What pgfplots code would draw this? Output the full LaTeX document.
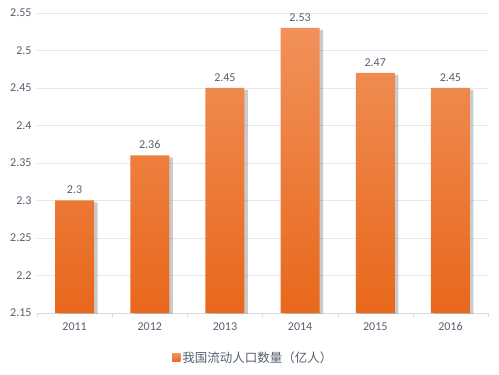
\documentclass[border=0pt]{standalone}
\usepackage{pgfplots}
\pgfplotsset{compat=1.18}
\usepackage{fontspec}
\setmainfont{Carlito}
\newfontfamily\cjk{Noto Sans CJK SC}
\definecolor{txt}{RGB}{85,95,110}
\definecolor{gridc}{RGB}{228,231,236}
\definecolor{axc}{RGB}{215,218,224}
\definecolor{otop}{RGB}{241,145,90}
\definecolor{obot}{RGB}{232,104,28}
\definecolor{oleg}{RGB}{236,116,40}
\begin{document}
\begin{tikzpicture}
\begin{axis}[
  scale only axis,
  width=451pt, height=300pt,
  xmin=-0.5, xmax=5.5,
  ymin=2.15, ymax=2.55,
  ytick={2.15,2.2,2.25,2.3,2.35,2.4,2.45,2.5,2.55},
  /pgf/number format/assume math mode=true,
  /pgf/number format/precision=2,
  xtick={0,1,2,3,4,5},
  xticklabels={2011,2012,2013,2014,2015,2016},
  minor xtick={-0.5,0.5,1.5,2.5,3.5,4.5,5.5},
  major tick length=0pt,
  minor tick length=4pt,
  tick align=outside,
  minor tick style={axc},
  axis x line*=bottom,
  axis y line*=left,
  y axis line style={draw=none},
  x axis line style={axc, -},
  ymajorgrids, grid style={gridc, line width=0.6pt},
  ticklabel style={font=\fontsize{12}{14}\selectfont, text=txt},
  yticklabel style={xshift=-2pt},
  xticklabel style={yshift=-6pt},
  clip=true,
  legend style={at={(0.48,-0.115)}, anchor=north, draw=none, fill=none,
    font=\cjk\fontsize{12.5}{14}\selectfont, text=txt, legend cell align=left},
  legend image code/.code={\fill[oleg] (0pt,-4pt) rectangle (8pt,4pt);},
]
\addplot[ybar, bar width=39pt, bar shift=3.5pt, draw=none, fill=black!45, opacity=0.45, forget plot, yshift=-2pt]
  coordinates {(0,2.3) (1,2.36) (2,2.45) (3,2.53) (4,2.47) (5,2.45)};
\addplot[ybar, bar width=39pt, bar shift=0pt, draw=none, top color=otop, bottom color=obot,
  nodes near coords, nodes near coords style={font=\fontsize{12}{14}\selectfont, text=txt, yshift=3pt}]
  coordinates {(0,2.3) (1,2.36) (2,2.45) (3,2.53) (4,2.47) (5,2.45)};
\addlegendentry{我国流动人口数量（亿人）}
\end{axis}
\pgfresetboundingbox
\path (current axis.south west) ++(-37pt,-61pt) coordinate (bl);
\path (current axis.north east) ++(11pt,13pt) coordinate (tr);
\path (bl) rectangle (tr);
\end{tikzpicture}
\end{document}
